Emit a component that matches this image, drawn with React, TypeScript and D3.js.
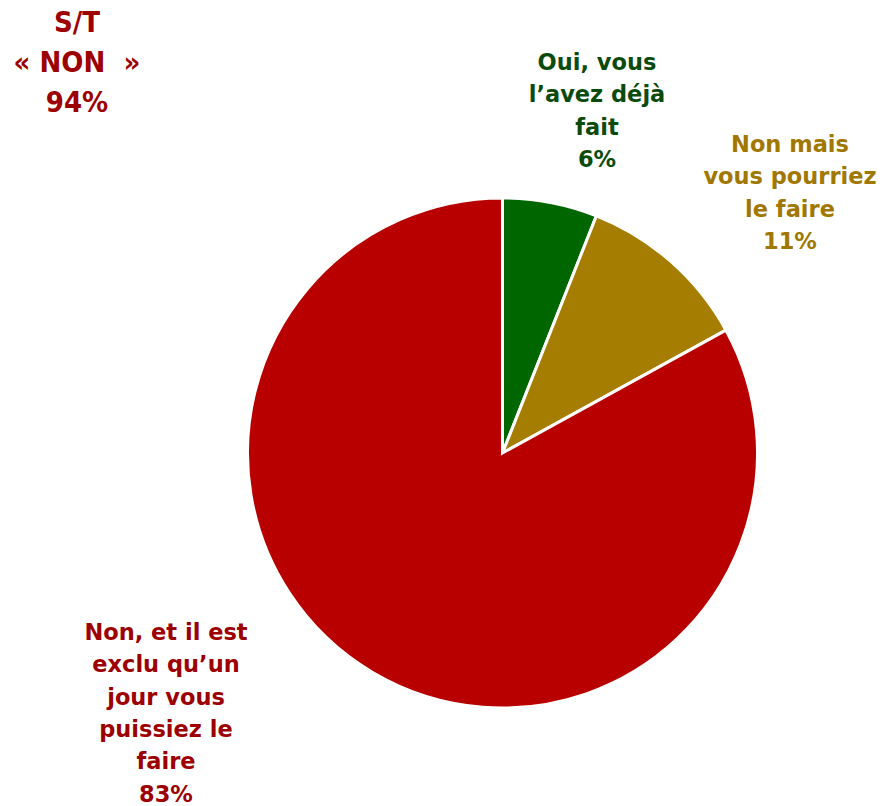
import React from "react";
import * as d3 from "d3";

const categories = ["Oui, vous l’avez déjà fait", "Non mais vous pourriez le faire", "Non, et il est exclu qu’un jour vous puissiez le faire"];
const values = [6, 11, 83];
const sliceColors = ["#006600", "#A57D00", "#B80000"];
const labelColors = ["#0A4A0A", "#A07800", "#9C0000"];
const labelLines = [
  ["Oui, vous", "l’avez déjà", "fait", "6%"],
  ["Non mais", "vous pourriez", "le faire", "11%"],
  ["Non, et il est", "exclu qu’un", "jour vous", "puissiez le", "faire", "83%"],
];
const labelPos = [
  { x: 597, y: 70 },
  { x: 790, y: 152 },
  { x: 166, y: 640 },
];
const summaryLines = ["S/T", "« NON  »", "94%"];

export default function App() {
  const W = 884, H = 806;
  const cx = 502.5, cy = 453, r = 255;
  const pie = d3.pie<number>().sort(null).value((d) => d);
  const arcs = pie(values);
  const arc = d3.arc<d3.PieArcDatum<number>>().innerRadius(0).outerRadius(r);
  const font = "'DejaVu Sans', sans-serif";
  const fontC = "'DejaVu Sans Condensed', 'DejaVu Sans', sans-serif";
  return (
    <svg width={W} height={H} style={{ position: "absolute", left: 0, top: 0 }}>
      <rect width={W} height={H} fill="#fff" />
      <g transform={`translate(${cx},${cy})`}>
        {arcs.map((a, i) => (
          <path key={i} d={arc(a) || ""} fill={sliceColors[i]} stroke="#fff" strokeWidth={3} />
        ))}
      </g>
      {labelLines.map((lines, i) => (
        <text key={i} fontFamily={font} fontWeight={700} fontSize={22.5} fill={labelColors[i]} textAnchor="middle">
          {lines.map((l, j) => (
            <tspan key={j} x={labelPos[i].x} y={labelPos[i].y + j * 32.3}>{l}</tspan>
          ))}
        </text>
      ))}
      <text fontFamily={fontC} fontWeight={700} fontSize={29} fill="#9C0000" textAnchor="middle" style={{ whiteSpace: "pre" }}>
        {summaryLines.map((l, j) => (
          <tspan key={j} x={77} y={32 + j * 40}>{l}</tspan>
        ))}
      </text>
    </svg>
  );
}
